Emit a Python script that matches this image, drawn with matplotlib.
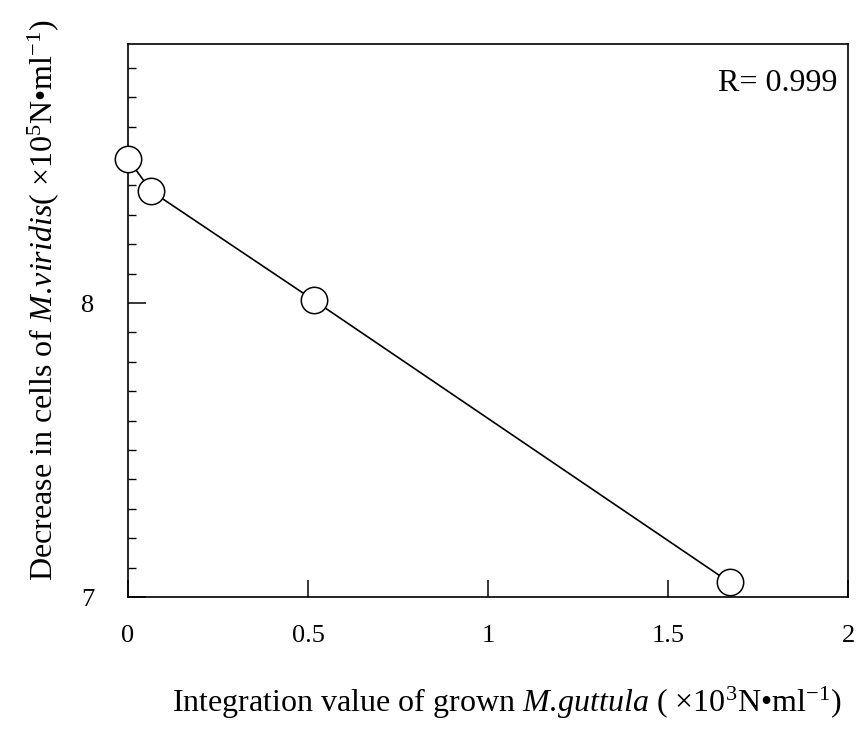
import matplotlib
matplotlib.use("Agg")
from matplotlib import pyplot as plt
from matplotlib.ticker import MultipleLocator

plt.rcParams['font.family'] = ['Liberation Serif', 'DejaVu Serif']
plt.rcParams['mathtext.fontset'] = 'custom'
plt.rcParams['mathtext.rm'] = 'Liberation Serif'
plt.rcParams['mathtext.it'] = 'Liberation Serif:italic'

# data
grown = [0.0, 0.065, 0.515, 1.67]          # x10^3 N/ml
decrease = [8.49, 8.38, 8.01, 7.05]        # x10^5 N/ml
x_ticks = [0, 0.5, 1, 1.5, 2]
x_labels = ["0", "0.5", "1", "1.5", "2"]
y_ticks = [7, 8]
r_text = "R= 0.999"

fig = plt.figure(figsize=(8.68, 7.38), dpi=100)
ax = fig.add_axes([0.1475, 0.191, 0.83, 0.749])

ax.plot(grown, decrease, color="black", lw=1.2, marker="o", ms=19,
        mfc="white", mec="black", mew=1.1, clip_on=False, zorder=3)

ax.set_xlim(0, 2)
ax.set_ylim(7, 8.88)
ax.set_xticks(x_ticks)
ax.set_xticklabels(x_labels)
ax.set_yticks(y_ticks)
ax.yaxis.set_minor_locator(MultipleLocator(0.1))

ax.tick_params(axis="both", which="major", direction="in", labelsize=19,
               width=1.1, color="black")
ax.tick_params(axis="x", which="major", length=12, pad=20)
ax.tick_params(axis="y", which="major", length=13, pad=24)
ax.tick_params(axis="y", which="minor", direction="in", length=6, width=1)

for s in ax.spines.values():
    s.set_linewidth(1.2)

ax.text(0.985, 0.955, r_text, transform=ax.transAxes, ha="right", va="top",
        fontsize=23)

ax.set_xlabel(r"Integration value of grown $\it{M.\!guttula}$ ( ×10$^{3}$N•ml$^{-1}$)",
              fontsize=23)
ax.set_ylabel(r"Decrease in cells of $\it{M.\!viridis}$( ×10$^{5}$N•ml$^{-1}$)",
              fontsize=23)
ax.xaxis.set_label_coords(0.525, -0.158)
ax.yaxis.set_label_coords(-0.093, 0.537)

fig.savefig("out.png", dpi=100)
